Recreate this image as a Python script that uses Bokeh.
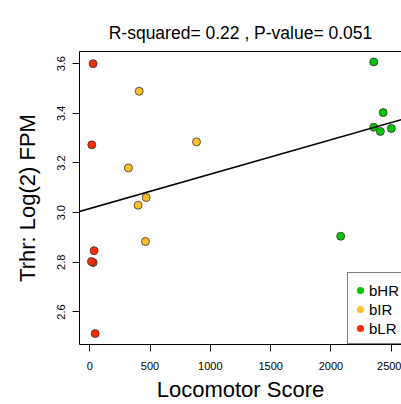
import numpy as np
from bokeh.plotting import figure
from bokeh.models import (FixedTicker, LinearAxis, Legend, LegendItem, Slope, Range1d)
from bokeh.embed import file_html
from bokeh.resources import INLINE

# ---- data ----
groups = ["bHR", "bIR", "bLR"]
colors = ["#00C800", "#FDBF2A", "#FF2A00"]
hr_x = [2355, 2433, 2355, 2410, 2501, 2081]
hr_y = [3.607, 3.403, 3.344, 3.327, 3.339, 2.905]
ir_x = [410, 885, 321, 468, 401, 462]
ir_y = [3.489, 3.285, 3.180, 3.061, 3.030, 2.884]
lr_x = [28, 17, 36, 28, 14, 45]
lr_y = [3.600, 3.273, 2.847, 2.799, 2.803, 2.513]
x_ticks = [0, 500, 1000, 1500, 2000, 2500]
y_ticks = [2.6, 2.8, 3.0, 3.2, 3.4, 3.6]
y_tick_labels = ["2.6", "2.8", "3.0", "3.2", "3.4", "3.6"]
subtitle = "R-squared= 0.22 , P-value= 0.051"
x_label = "Locomotor Score"
y_label = "Trhr: Log(2) FPM"

FONT = "Liberation Sans"

p = figure(width=401, height=404, output_backend="svg", toolbar_location=None,
           x_range=Range1d(-85, 2585), y_range=Range1d(2.469, 3.649),
           min_border_left=79, min_border_right=0, min_border_top=51, min_border_bottom=57,
           title=subtitle)
p.outline_line_color = None
p.grid.visible = False
p.background_fill_color = "white"
p.border_fill_color = "white"

p.title.text_font = FONT
p.title.text_font_size = "17.5px"
p.title.text_font_style = "normal"
p.title.align = "center"
p.title.text_color = "black"
p.title.standoff = 18

# axes
xa = p.xaxis[0]
xa.ticker = FixedTicker(ticks=x_ticks)
xa.axis_label = x_label
ya = p.yaxis[0]
ya.ticker = FixedTicker(ticks=y_ticks)
ya.major_label_overrides = {t: l for t, l in zip(y_ticks, y_tick_labels)}
ya.axis_label = y_label
ya.major_label_orientation = "vertical"
for ax in (xa, ya):
    ax.axis_line_color = "black"
    ax.major_tick_line_color = "black"
    ax.major_tick_in = 0
    ax.major_tick_out = 7
    ax.minor_tick_line_color = None
    ax.major_label_text_font = FONT
    ax.major_label_text_font_size = "11px"
    ax.major_label_text_color = "black"
    ax.axis_label_text_font = FONT
    ax.axis_label_text_font_size = "22px"
    ax.axis_label_text_font_style = "normal"
    ax.axis_label_text_color = "black"
xa.major_label_standoff = 10
xa.axis_label_standoff = 4
ya.major_label_standoff = 7
ya.axis_label_standoff = 15

top = LinearAxis(ticker=FixedTicker(ticks=[]), major_label_text_font_size="0px",
                 major_tick_out=0, major_tick_in=0, minor_tick_out=0, minor_tick_in=0,
                 major_label_standoff=0, axis_line_color="black")
p.add_layout(top, "above")

# points
sets = [(hr_x, hr_y), (ir_x, ir_y), (lr_x, lr_y)]
for (xs, ys), c in zip(sets, colors):
    p.scatter(xs, ys, size=8, fill_color=c, line_color="#333333", line_width=0.8)

# regression line
all_x = np.array(hr_x + ir_x + lr_x, dtype=float)
all_y = np.array(hr_y + ir_y + lr_y, dtype=float)
slope, intercept = np.polyfit(all_x, all_y, 1)
p.add_layout(Slope(gradient=slope, y_intercept=intercept, line_color="black", line_width=1.6))

# legend: a plain framed box plus the visible dots and labels drawn on top of it
box_items, items = [], []
for g, c in zip(groups, colors):
    r = p.scatter(x=[float("nan")], y=[float("nan")], size=7, fill_color=c, line_color=None)
    rh = p.scatter(x=[float("nan")], y=[float("nan")], size=1, fill_alpha=0, line_alpha=0)
    items.append(LegendItem(label=g, renderers=[r]))
    box_items.append(LegendItem(label=" ", renderers=[rh]))
box = Legend(items=box_items, location=(268, 0), margin=0, padding=7, spacing=1,
             glyph_width=50, glyph_height=18, label_height=18, label_standoff=4,
             label_text_font=FONT, label_text_font_size="15px", label_text_alpha=0,
             border_line_color="black", border_line_width=1, background_fill_color="white",
             background_fill_alpha=1)
p.add_layout(box)
leg = Legend(items=items, location=(272, 7), margin=0, padding=0, spacing=1,
             glyph_width=18, glyph_height=18, label_height=18, label_standoff=-2,
             label_text_font=FONT, label_text_font_size="15px", label_text_color="black",
             border_line_color=None, background_fill_alpha=0)
p.add_layout(leg)

open("out.html", "w").write(file_html(p, INLINE))
